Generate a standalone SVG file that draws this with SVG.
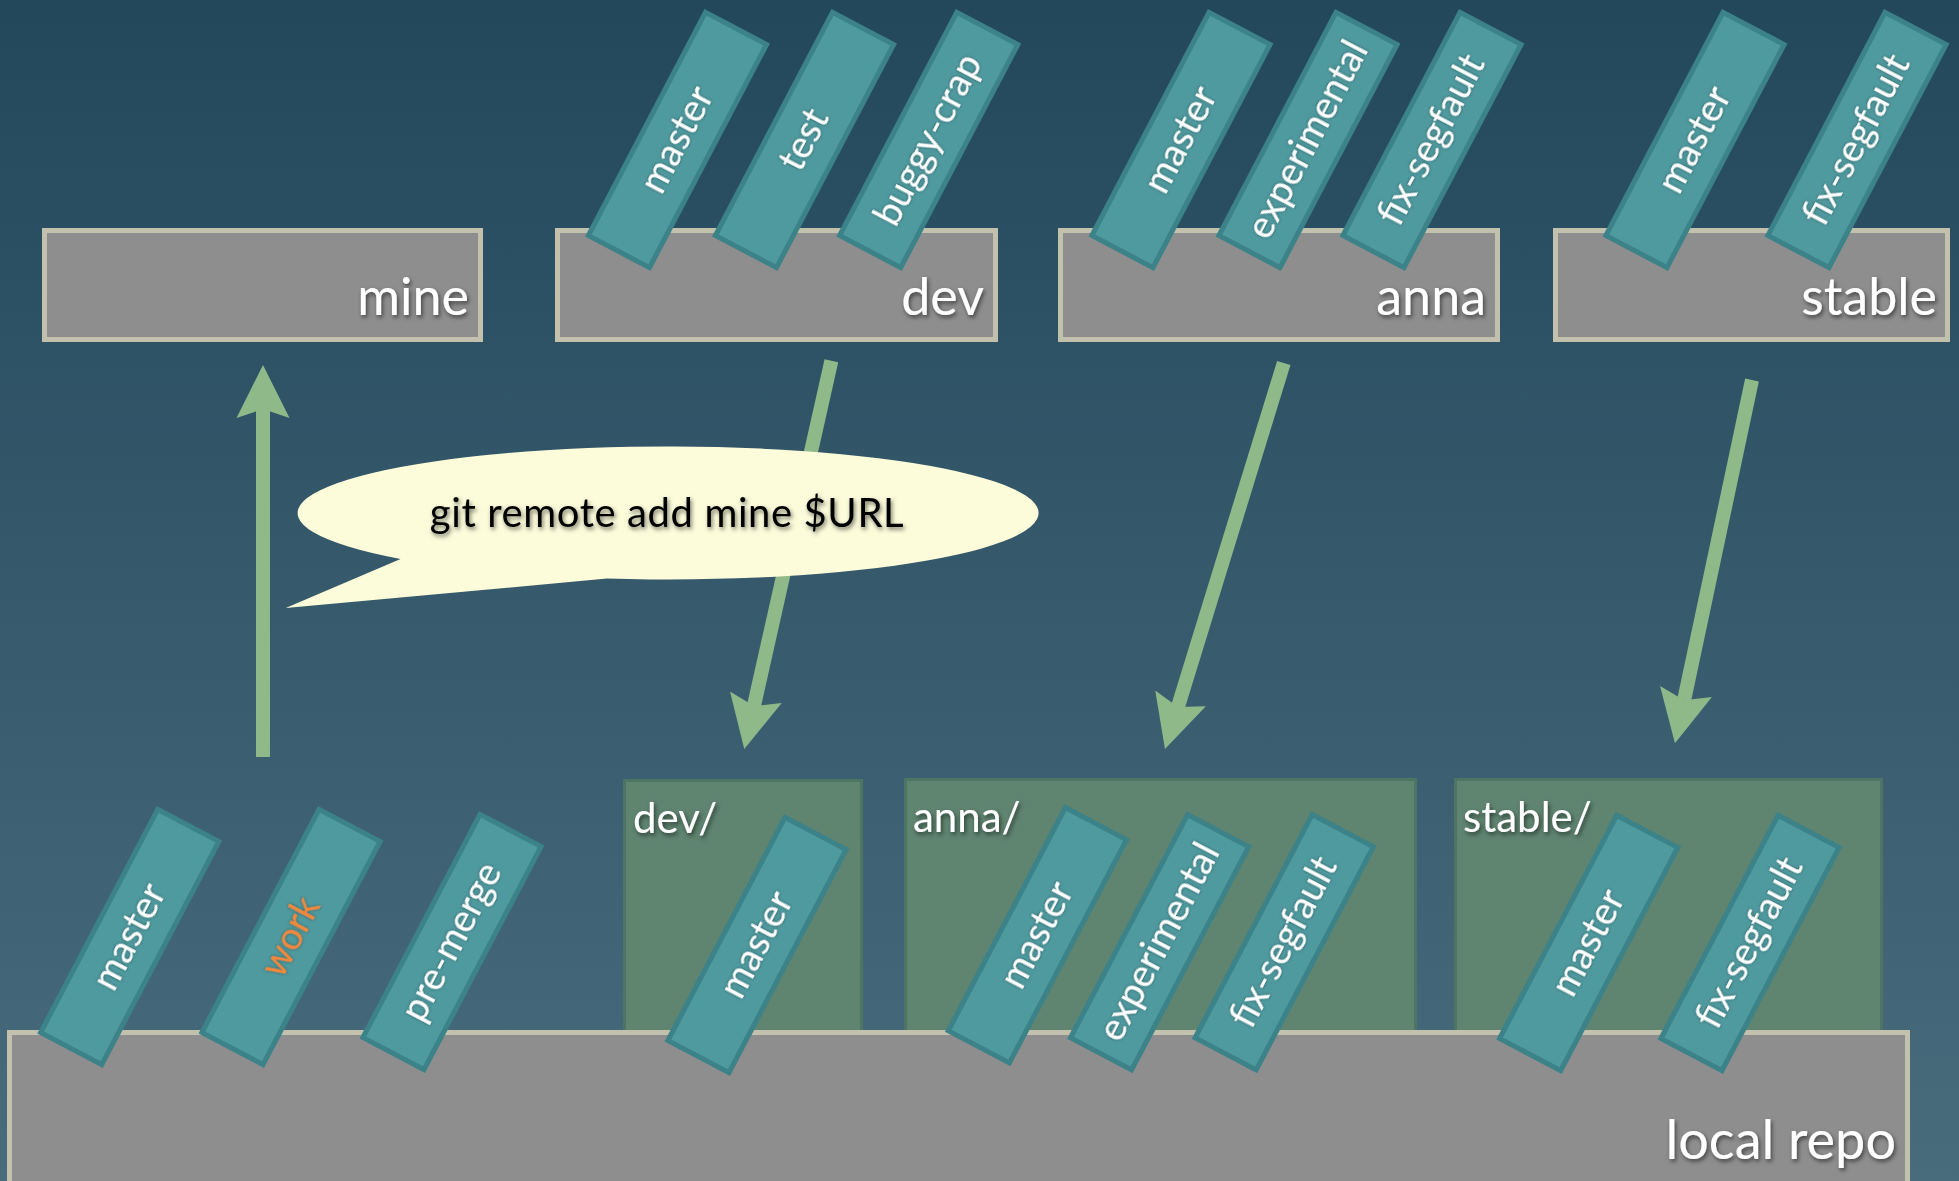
<svg xmlns="http://www.w3.org/2000/svg" width="1959" height="1181" viewBox="0 0 1959 1181">
<defs>
<linearGradient id="bg" x1="0" y1="0" x2="0" y2="1">
<stop offset="0" stop-color="#23485b"/>
<stop offset="0.5" stop-color="#365a6c"/>
<stop offset="1" stop-color="#486c7c"/>
</linearGradient>
<filter id="sh" x="-20%" y="-40%" width="140%" height="180%">
<feDropShadow dx="1.5" dy="2.5" stdDeviation="2" flood-color="#000" flood-opacity="0.55"/>
</filter>
<filter id="shs" x="-20%" y="-40%" width="140%" height="180%">
<feDropShadow dx="0" dy="0" stdDeviation="1.6" flood-color="#000" flood-opacity="0.5"/>
</filter>
<marker id="ah" markerUnits="userSpaceOnUse" markerWidth="60" markerHeight="60" viewBox="0 -30 60 60" refX="9" refY="0" orient="auto">
<path d="M0,-26.5 L53,0 L0,26.5 L9,0 Z" fill="#90b98a"/>
</marker>
</defs>
<style>
.box{fill:#8e8e8e;stroke:#c1c1ad;stroke-width:5}
.folder{fill:#5f8470;stroke:#4e7464;stroke-width:3}
.tag{fill:#4f9a9f;stroke:#3c8289;stroke-width:5;stroke-linejoin:miter}
.tt{font-family:Lato,"Open Sans","DejaVu Sans",sans-serif;font-size:38px;fill:#ffffff;text-anchor:middle}
.big{font-family:Lato,"Open Sans","DejaVu Sans",sans-serif;font-size:52px;fill:#ffffff;text-anchor:end}
.mid{font-family:Lato,"Open Sans","DejaVu Sans",sans-serif;font-size:42px;fill:#ffffff}
.conn{stroke:#90b98a;stroke-width:14;fill:none;marker-end:url(#ah)}
</style>
<rect x="0" y="0" width="1959" height="1181" fill="url(#bg)"/>

<!-- remote boxes -->
<g id="remote-mine">
<rect class="box" x="44.5" y="230.5" width="436" height="109"/>
<text class="big" x="469" y="315" filter="url(#sh)">mine</text>
</g>
<g id="remote-dev">
<rect class="box" x="557.5" y="230.5" width="438" height="109"/>
<text class="big" x="984" y="315" filter="url(#sh)">dev</text>
</g>
<g id="remote-anna">
<rect class="box" x="1060.5" y="230.5" width="437" height="109"/>
<text class="big" x="1486" y="315" filter="url(#sh)">anna</text>
</g>
<g id="remote-stable">
<rect class="box" x="1555.5" y="230.5" width="392" height="109"/>
<text class="big" x="1937" y="315" filter="url(#sh)">stable</text>
</g>

<!-- top tags -->
<g id="tag-dev-master" transform="translate(677.5,140) rotate(-62.3)"><rect class="tag" x="-126" y="-34.5" width="252" height="69"/><text class="tt" y="12" filter="url(#shs)">master</text></g>
<g id="tag-dev-test" transform="translate(804.5,140) rotate(-62.3)"><rect class="tag" x="-126" y="-34.5" width="252" height="69"/><text class="tt" y="12" filter="url(#shs)">test</text></g>
<g id="tag-dev-buggy-crap" transform="translate(928.75,140) rotate(-62.3)"><rect class="tag" x="-126" y="-34.5" width="252" height="69"/><text class="tt" y="12" filter="url(#shs)">buggy-crap</text></g>
<g id="tag-anna-master" transform="translate(1181,140) rotate(-62.3)"><rect class="tag" x="-126" y="-34.5" width="252" height="69"/><text class="tt" y="12" filter="url(#shs)">master</text></g>
<g id="tag-anna-experimental" transform="translate(1308,140) rotate(-62.3)"><rect class="tag" x="-126" y="-34.5" width="252" height="69"/><text class="tt" y="12" filter="url(#shs)">experimental</text></g>
<g id="tag-anna-fix-segfault" transform="translate(1432,140) rotate(-62.3)"><rect class="tag" x="-126" y="-34.5" width="252" height="69"/><text class="tt" y="12" filter="url(#shs)">fix-segfault</text></g>
<g id="tag-stable-master" transform="translate(1695,140) rotate(-62.3)"><rect class="tag" x="-126" y="-34.5" width="252" height="69"/><text class="tt" y="12" filter="url(#shs)">master</text></g>
<g id="tag-stable-fix-segfault" transform="translate(1857,140) rotate(-62.3)"><rect class="tag" x="-126" y="-34.5" width="252" height="69"/><text class="tt" y="12" filter="url(#shs)">fix-segfault</text></g>

<!-- remote-tracking folders -->
<g id="folder-dev">
<rect class="folder" x="624.5" y="780.5" width="237" height="262"/>
<text class="mid" x="633" y="833" filter="url(#sh)">dev/</text>
</g>
<g id="folder-anna">
<rect class="folder" x="905.5" y="779.5" width="510" height="262"/>
<text class="mid" x="913" y="832" filter="url(#sh)">anna/</text>
</g>
<g id="folder-stable">
<rect class="folder" x="1455.5" y="779.5" width="426" height="262"/>
<text class="mid" x="1463" y="832" filter="url(#sh)">stable/</text>
</g>

<!-- local repo -->
<g id="local-repo">
<rect class="box" x="9.5" y="1032.5" width="1898" height="200"/>
<text class="big" x="1896" y="1159" style="font-size:54px" filter="url(#sh)">local repo</text>
</g>

<!-- bottom tags -->
<g id="tag-local-master" transform="translate(129.75,937) rotate(-62.3)"><rect class="tag" x="-126" y="-34.5" width="252" height="69"/><text class="tt" y="12" filter="url(#shs)">master</text></g>
<g id="tag-local-work" transform="translate(291,937) rotate(-62.3)"><rect class="tag" x="-126" y="-34.5" width="252" height="69"/><text class="tt" y="12" style="fill:#f0883e" filter="url(#shs)">work</text></g>
<g id="tag-local-pre-merge" transform="translate(452,942) rotate(-62.3)"><rect class="tag" x="-126" y="-34.5" width="252" height="69"/><text class="tt" y="12" filter="url(#shs)">pre-merge</text></g>
<g id="tag-devslash-master" transform="translate(757,945) rotate(-62.3)"><rect class="tag" x="-126" y="-34.5" width="252" height="69"/><text class="tt" y="12" filter="url(#shs)">master</text></g>
<g id="tag-annaslash-master" transform="translate(1037.4,935.3) rotate(-62.3)"><rect class="tag" x="-126" y="-34.5" width="252" height="69"/><text class="tt" y="12" filter="url(#shs)">master</text></g>
<g id="tag-annaslash-experimental" transform="translate(1159.6,942.3) rotate(-62.3)"><rect class="tag" x="-126" y="-34.5" width="252" height="69"/><text class="tt" y="12" filter="url(#shs)">experimental</text></g>
<g id="tag-annaslash-fix-segfault" transform="translate(1284.2,942.3) rotate(-62.3)"><rect class="tag" x="-126" y="-34.5" width="252" height="69"/><text class="tt" y="12" filter="url(#shs)">fix-segfault</text></g>
<g id="tag-stableslash-master" transform="translate(1588.7,943) rotate(-62.3)"><rect class="tag" x="-126" y="-34.5" width="252" height="69"/><text class="tt" y="12" filter="url(#shs)">master</text></g>
<g id="tag-stableslash-fix-segfault" transform="translate(1750,943) rotate(-62.3)"><rect class="tag" x="-126" y="-34.5" width="252" height="69"/><text class="tt" y="12" filter="url(#shs)">fix-segfault</text></g>

<!-- connectors -->
<g id="connectors">
<line class="conn" x1="263" y1="757" x2="263" y2="409"/>
<line class="conn" x1="831.4" y1="360.7" x2="753.9" y2="706.1"/>
<line class="conn" x1="1283.8" y1="363" x2="1177.9" y2="707"/>
<line class="conn" x1="1752" y1="380" x2="1684.1" y2="700.3"/>
</g>

<!-- speech bubble -->
<g id="bubble">
<path d="M400.5,559 L285.7,608 L607,578.6 A370.5,66.5 0 1 0 400.5,559 Z" fill="#fcfcdb"/>
<text x="667" y="527" text-anchor="middle" font-family="Lato,'Open Sans','DejaVu Sans',sans-serif" font-size="40" fill="#000" letter-spacing="0.6" filter="url(#sh)">git remote add mine $URL</text>
</g>
</svg>
